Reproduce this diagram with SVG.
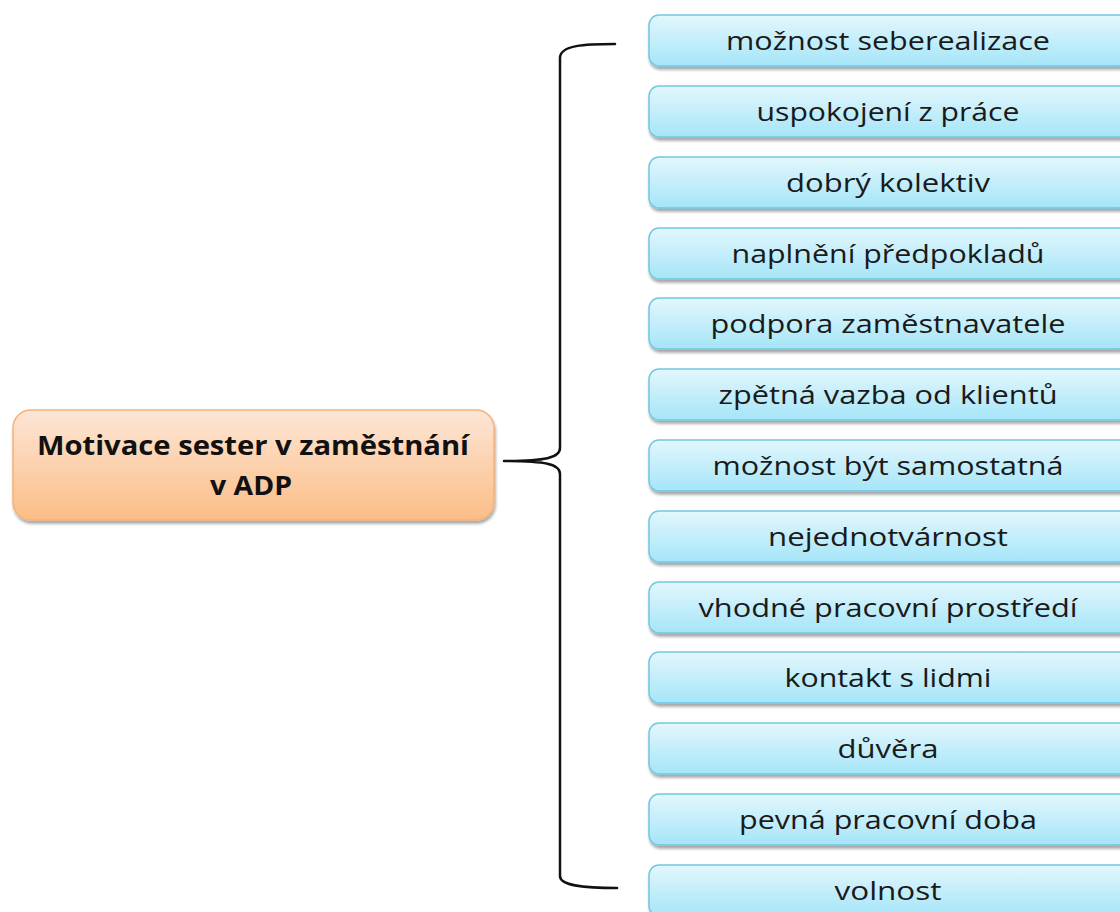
<svg xmlns="http://www.w3.org/2000/svg" width="1120" height="912" viewBox="0 0 1120 912">
  <defs>
    <linearGradient id="gBlue" x1="0" y1="0" x2="0" y2="1">
      <stop offset="0" stop-color="#e3f7fd"/>
      <stop offset="1" stop-color="#a5e5f8"/>
    </linearGradient>
    <linearGradient id="gOrange" x1="0" y1="0" x2="0" y2="1">
      <stop offset="0" stop-color="#fde6d6"/>
      <stop offset="1" stop-color="#fbbd86"/>
    </linearGradient>
    <filter id="shadow" x="-5%" y="-10%" width="110%" height="130%">
      <feGaussianBlur in="SourceAlpha" stdDeviation="1.5"/>
      <feOffset dx="1" dy="2.5" result="b"/>
      <feComponentTransfer><feFuncA type="linear" slope="0.35"/></feComponentTransfer>
      <feMerge><feMergeNode/><feMergeNode in="SourceGraphic"/></feMerge>
    </filter>
  </defs>
  <style>
    .item rect { fill: url(#gBlue); stroke: #72c8df; stroke-width: 1.5; filter: url(#shadow); }
    .item text { font-family: "Open Sans", "Liberation Sans", sans-serif; font-size: 25px; fill: #1a1a1a; text-anchor: middle; }
    .root rect { fill: url(#gOrange); stroke: #f6b27a; stroke-width: 1.5; filter: url(#shadow); }
    .root text { font-family: "Open Sans", "Liberation Sans", sans-serif; font-size: 26px; font-weight: bold; fill: #111; text-anchor: middle; }
    .brace { fill: none; stroke: #111; stroke-width: 2.5; stroke-linejoin: round; stroke-linecap: round; }
  </style>
  <rect width="1120" height="912" fill="#ffffff"/>

  <!-- curly brace joining the topic to its list -->
  <g id="connectors">
    <path class="brace" d="M 615 44 C 585 44 560 45 560 58 L 560 448 C 560 458 545 461 504 461 C 545 461 560 464 560 474 L 560 876 C 560 886 585 888 617 888"/>
  </g>

  <g id="root" class="root">
    <rect x="13" y="410" width="481" height="110" rx="18" ry="18"/>
    <text x="253" y="455" textLength="432" lengthAdjust="spacingAndGlyphs">Motivace sester v zaměstnání</text>
    <text x="251" y="495" textLength="82" lengthAdjust="spacingAndGlyphs">v ADP</text>
  </g>

  <g id="n1" class="item"><rect x="649" y="15" width="480" height="51" rx="10"/><text x="888" y="50" textLength="324" lengthAdjust="spacingAndGlyphs">možnost seberealizace</text></g>
  <g id="n2" class="item"><rect x="649" y="86" width="480" height="51" rx="10"/><text x="888" y="121" textLength="263" lengthAdjust="spacingAndGlyphs">uspokojení z práce</text></g>
  <g id="n3" class="item"><rect x="649" y="157" width="480" height="51" rx="10"/><text x="888" y="192" textLength="204" lengthAdjust="spacingAndGlyphs">dobrý kolektiv</text></g>
  <g id="n4" class="item"><rect x="649" y="228" width="480" height="51" rx="10"/><text x="888" y="263" textLength="313" lengthAdjust="spacingAndGlyphs">naplnění předpokladů</text></g>
  <g id="n5" class="item"><rect x="649" y="298" width="480" height="51" rx="10"/><text x="888" y="333" textLength="355" lengthAdjust="spacingAndGlyphs">podpora zaměstnavatele</text></g>
  <g id="n6" class="item"><rect x="649" y="369" width="480" height="51" rx="10"/><text x="888" y="404" textLength="339" lengthAdjust="spacingAndGlyphs">zpětná vazba od klientů</text></g>
  <g id="n7" class="item"><rect x="649" y="440" width="480" height="51" rx="10"/><text x="888" y="475" textLength="351" lengthAdjust="spacingAndGlyphs">možnost být samostatná</text></g>
  <g id="n8" class="item"><rect x="649" y="511" width="480" height="51" rx="10"/><text x="888" y="546" textLength="240" lengthAdjust="spacingAndGlyphs">nejednotvárnost</text></g>
  <g id="n9" class="item"><rect x="649" y="582" width="480" height="51" rx="10"/><text x="888" y="617" textLength="379" lengthAdjust="spacingAndGlyphs">vhodné pracovní prostředí</text></g>
  <g id="n10" class="item"><rect x="649" y="652" width="480" height="51" rx="10"/><text x="888" y="687" textLength="207" lengthAdjust="spacingAndGlyphs">kontakt s lidmi</text></g>
  <g id="n11" class="item"><rect x="649" y="723" width="480" height="51" rx="10"/><text x="888" y="758" textLength="101" lengthAdjust="spacingAndGlyphs">důvěra</text></g>
  <g id="n12" class="item"><rect x="649" y="794" width="480" height="51" rx="10"/><text x="888" y="829" textLength="298" lengthAdjust="spacingAndGlyphs">pevná pracovní doba</text></g>
  <g id="n13" class="item"><rect x="649" y="865" width="480" height="51" rx="10"/><text x="888" y="900" textLength="107" lengthAdjust="spacingAndGlyphs">volnost</text></g>
</svg>
